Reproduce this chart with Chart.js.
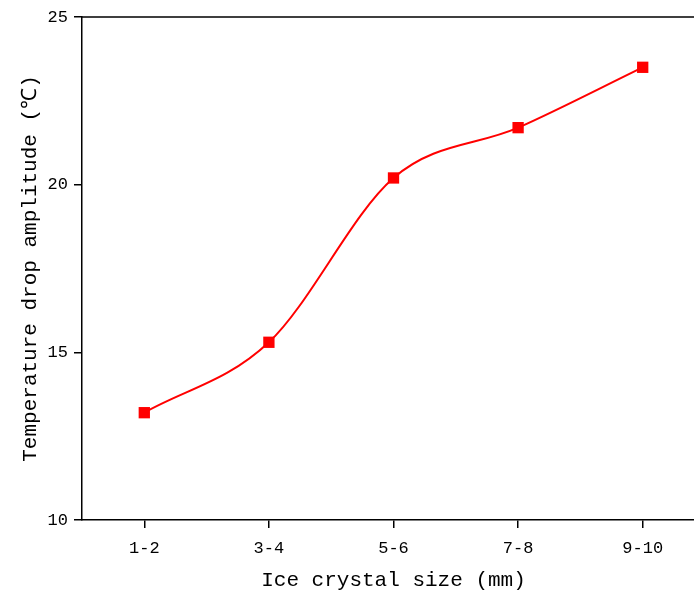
<!DOCTYPE html>
<html>
<head>
<meta charset="utf-8">
<script src="https://cdn.jsdelivr.net/npm/chart.js@4/dist/chart.umd.min.js"></script>
<style>
  html, body { margin: 0; padding: 0; background: #fff; overflow: hidden; }
  #wrap { width: 713px; height: 593px; }
</style>
</head>
<body>
<div id="wrap"><canvas id="myChart" width="713" height="593"></canvas></div>
<script>
const ctx = document.getElementById('myChart').getContext("2d");

// data
const sizes = ['1-2', '3-4', '5-6', '7-8', '9-10'];
const dropAmplitude = [13.2, 15.3, 20.2, 21.7, 23.5];
const yTicks = [10, 15, 20, 25];

const FONT = "'Liberation Mono', 'DejaVu Sans Mono', monospace";

// top spine (right one falls outside the window anyway)
const frame = {
    id: 'frame',
    afterDraw(chart) {
        const a = chart.chartArea;
        const c = chart.ctx;
        c.save();
        c.strokeStyle = '#000';
        c.lineWidth = 1.5;
        c.beginPath();
        c.moveTo(a.left, a.top);
        c.lineTo(a.right, a.top);
        c.lineTo(a.right, a.bottom);
        c.stroke();
        c.restore();
    }
};

const data = {
    labels: sizes,
    datasets: [
        {
            data: dropAmplitude,
            borderColor: "#ff0000",
            backgroundColor: "#ff0000",
            borderWidth: 2,
            pointStyle: 'rect',
            pointRadius: 8,
            pointBorderWidth: 0,
            cubicInterpolationMode: 'monotone',
            clip: false,
        },
    ],
};

const config = {
    type: 'line',
    data: data,
    plugins: [frame],
    options: {
        responsive: false,
        animation: false,
        layout: { padding: { top: 17, right: 0, left: 0, bottom: 0 } },
        plugins: {
            legend: { display: false },
            tooltip: { enabled: false },
        },
        scales: {
            x: {
                offset: true,
                afterFit: (s) => { s.height = 73; },
                grid: {
                    offset: false,
                    drawOnChartArea: false,
                    color: '#000',
                    tickLength: 8,
                    lineWidth: 1.5,
                },
                border: { color: '#000', width: 1.5 },
                ticks: {
                    color: '#000',
                    padding: 10,
                    font: { family: FONT, size: 17 },
                },
                title: {
                    display: true,
                    text: "Ice crystal size (mm)",
                    color: "#000",
                    font: { family: FONT, size: 21 },
                    padding: { top: 4, bottom: 0 },
                },
            },
            y: {
                min: 10,
                max: 25,
                afterFit: (s) => { s.width = 82; },
                afterBuildTicks: (s) => { s.ticks = yTicks.map(v => ({ value: v })); },
                grid: {
                    drawOnChartArea: false,
                    color: '#000',
                    tickLength: 8,
                    lineWidth: 1.5,
                },
                border: { color: '#000', width: 1.5 },
                ticks: {
                    color: '#000',
                    padding: 6,
                    font: { family: FONT, size: 17 },
                },
                title: {
                    display: true,
                    text: "Temperature drop amplitude (℃)",
                    color: "#000",
                    font: { family: FONT, size: 21 },
                    padding: { top: 18, bottom: 0 },
                },
            },
        },
    },
};

const myChart = new Chart(ctx, config);
</script>
</body>
</html>
